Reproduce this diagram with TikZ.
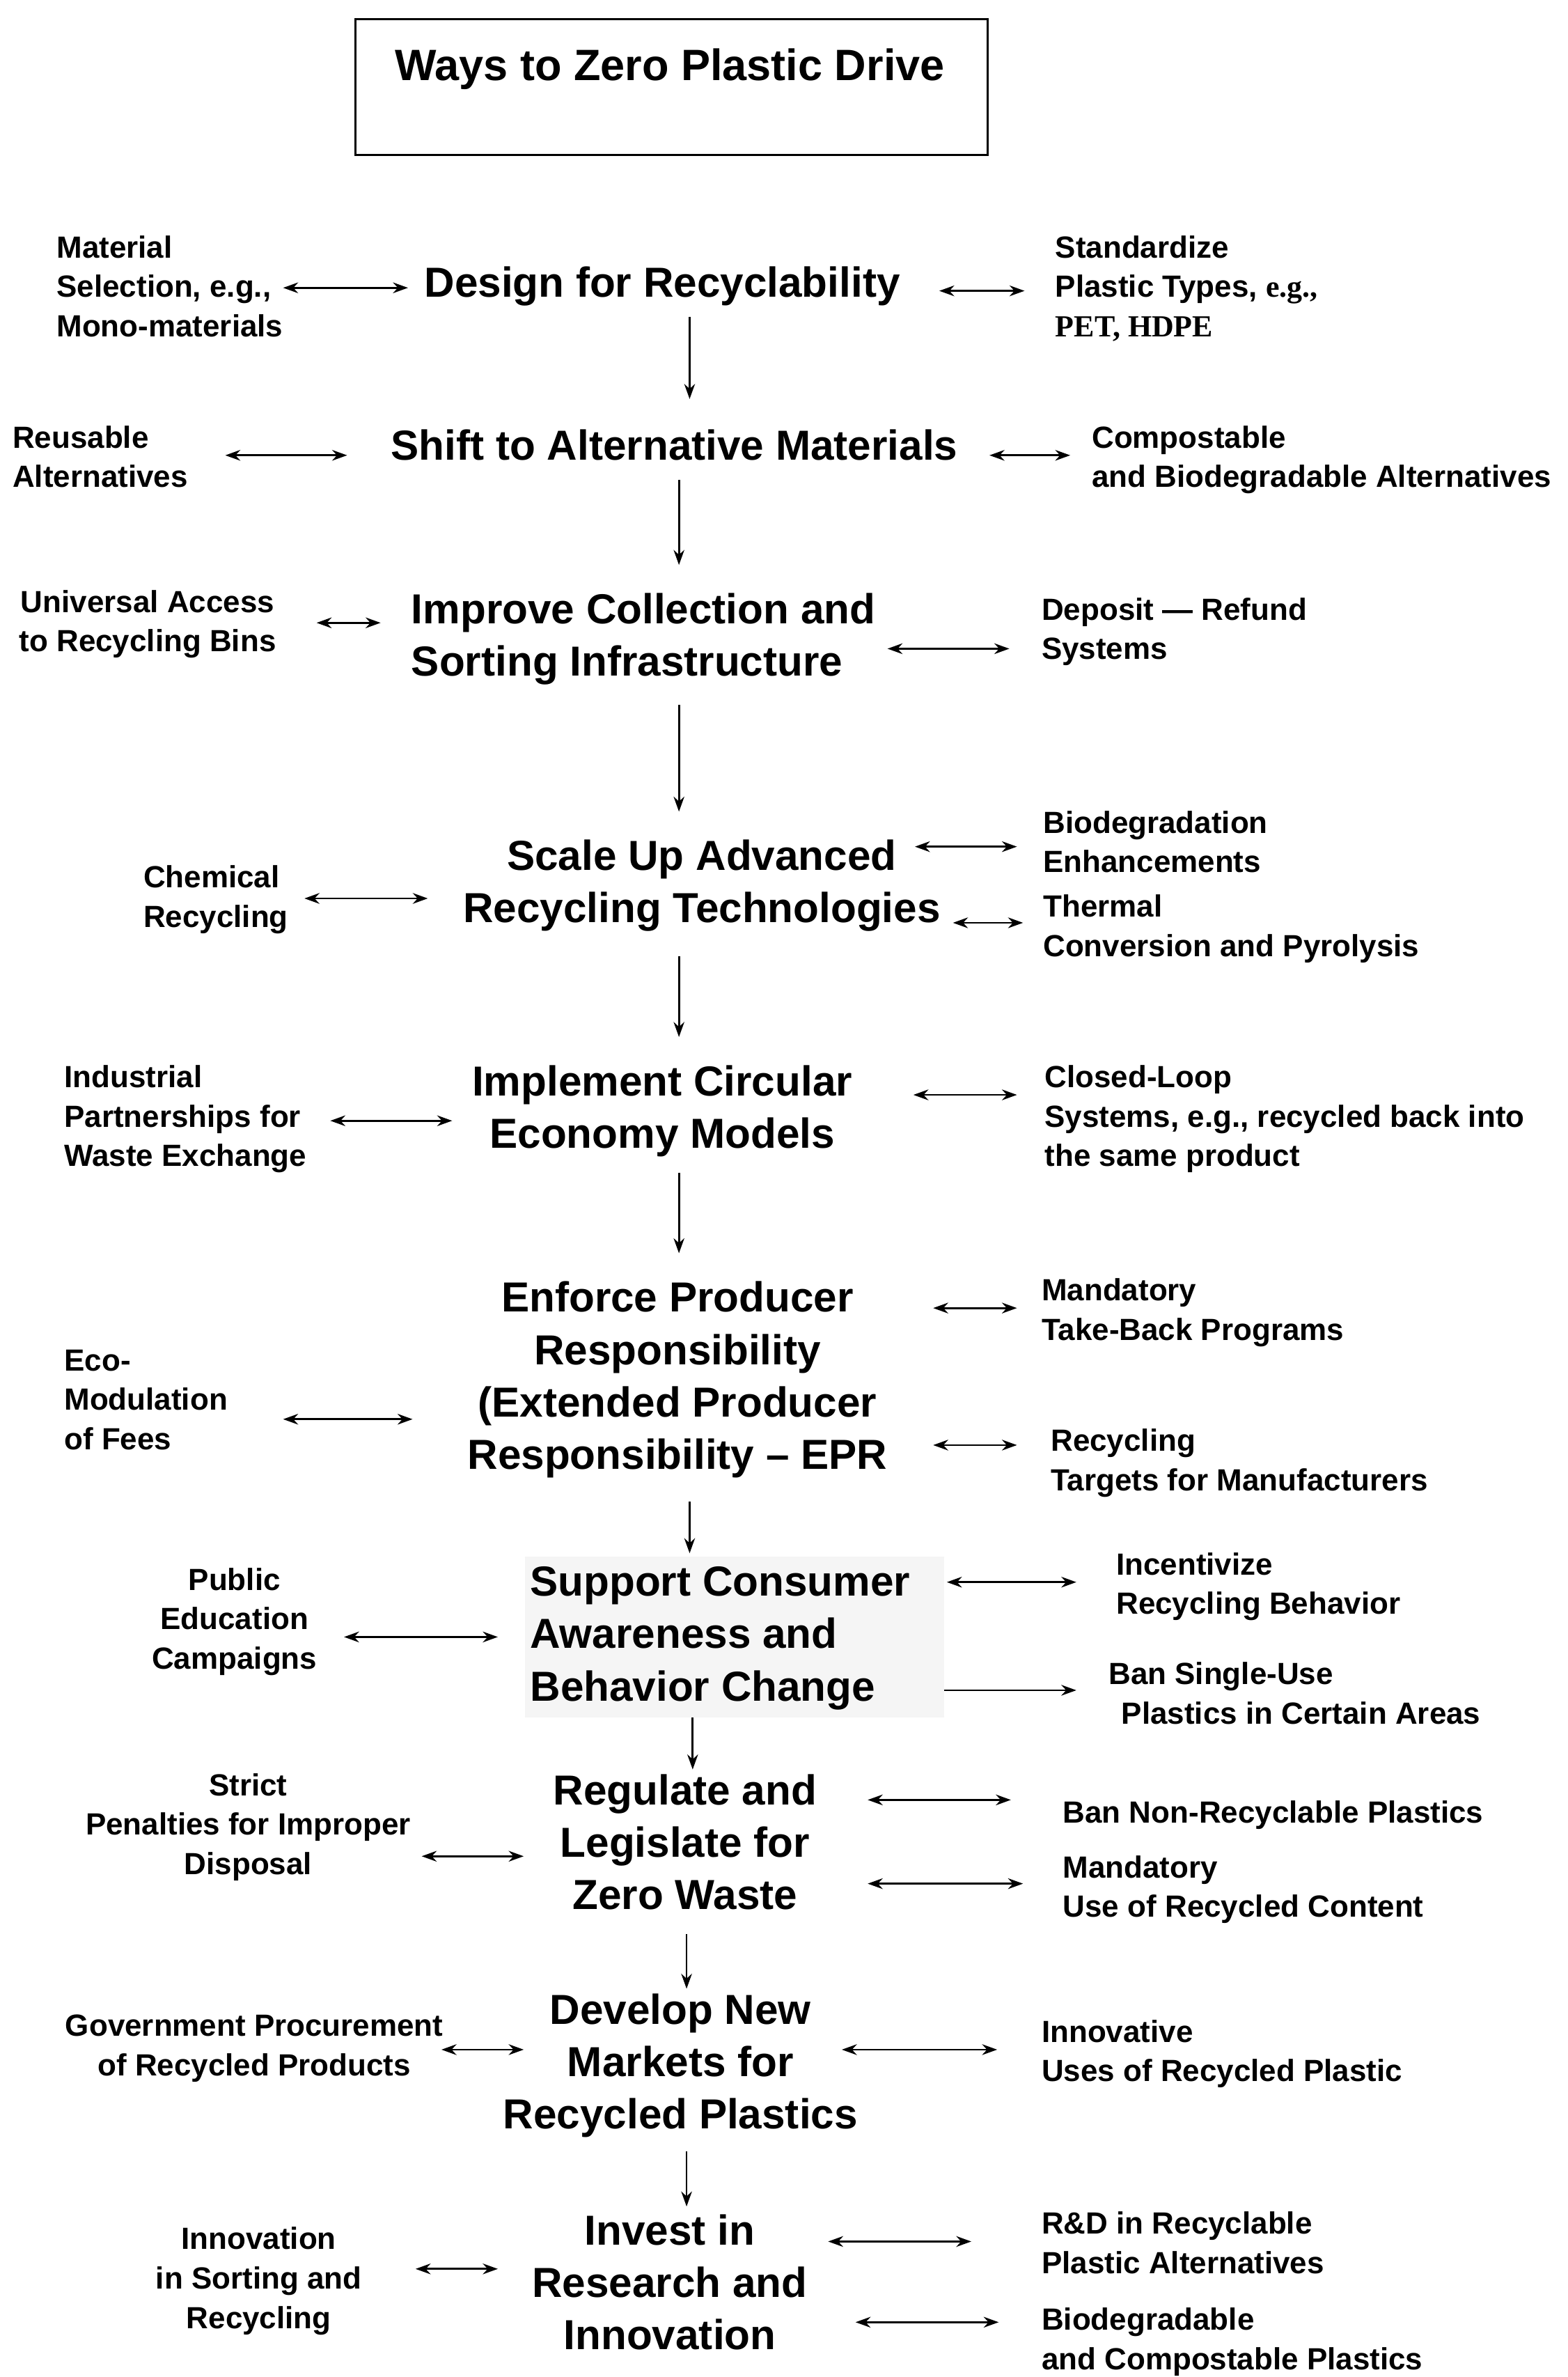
\documentclass[tikz,border=0pt]{standalone}
\usepackage{fontspec}
\setmainfont{Liberation Sans}
\newfontfamily\tms{Liberation Serif}
\usetikzlibrary{arrows.meta}
\begin{document}
\begin{tikzpicture}[x=0.025cm,y=-0.025cm,
 mainL/.style={font=\bfseries\fontsize{19.6}{24.5}\selectfont,inner sep=0,anchor=base west,align=left},
 mainC/.style={font=\bfseries\fontsize{19.6}{24.5}\selectfont,inner sep=0,anchor=base,align=center},
 sideL/.style={font=\bfseries\fontsize{14.3}{18.4}\selectfont,inner sep=0,anchor=base west,align=left},
 sideC/.style={font=\bfseries\fontsize{14.3}{18.4}\selectfont,inner sep=0,anchor=base,align=center},
 da/.style={{Stealth[length=7pt,width=5pt]}-{Stealth[length=7pt,width=5pt]},line width=0.9pt},
 sa/.style={-{Stealth[length=7pt,width=5pt]},line width=0.9pt}]
\useasboundingbox (0,0) rectangle (1030,1561);
\node[draw,line width=0.9pt,minimum width=415*0.025cm,minimum height=89*0.025cm,anchor=north west] (title) at (233,12) {};
\node[font=\bfseries\fontsize{20.5}{25}\selectfont,inner sep=0,anchor=base] (tt) at (440,53) {Ways to Zero Plastic Drive};
% 1
\node[mainC] (m1) at (435,195) {Design for Recyclability};
\node[sideL] (l1) at (37,221) {Material\\Selection, e.g.,\\Mono-materials};
\node[sideL] (r1) at (693,221) {Standardize\\Plastic Types, {\tms e.g.,}\\{\tms PET, HDPE}};
\coordinate (a1) at (186,189); \coordinate (b1) at (268,189);
\coordinate (c1) at (617,191); \coordinate (d1) at (673,191);
\draw[da] (a1)--(b1); \draw[da] (c1)--(d1);
\coordinate (v1a) at (453,208); \coordinate (v1b) at (453,262); \draw[sa] (v1a)--(v1b);
% 2
\node[mainC] (m2) at (443,302) {Shift to Alternative Materials};
\node[sideL] (l2) at (8,320) {Reusable\\Alternatives};
\node[sideL] (r2) at (717,320) {Compostable\\and Biodegradable Alternatives};
\coordinate (a2) at (148,299); \coordinate (b2) at (228,299);
\coordinate (c2) at (650,299); \coordinate (d2) at (703,299);
\draw[da] (a2)--(b2); \draw[da] (c2)--(d2);
\coordinate (v2a) at (446,315); \coordinate (v2b) at (446,371); \draw[sa] (v2a)--(v2b);
% 3
\node[mainL] (m3) at (270,444) {Improve Collection and\\Sorting Infrastructure};
\node[sideC] (l3) at (97,428) {Universal Access\\to Recycling Bins};
\node[sideL] (r3) at (684,433) {Deposit --- Refund\\Systems};
\coordinate (a3) at (208,409); \coordinate (b3) at (250,409);
\coordinate (c3) at (583,426); \coordinate (d3) at (663,426);
\draw[da] (a3)--(b3); \draw[da] (c3)--(d3);
\coordinate (v3a) at (446,463); \coordinate (v3b) at (446,533); \draw[sa] (v3a)--(v3b);
% 4
\node[mainC] (m4) at (461,606) {Scale Up Advanced\\Recycling Technologies};
\node[sideL] (l4) at (94,609) {Chemical\\Recycling};
\node[sideL] (r4a) at (685,573) {Biodegradation\\Enhancements};
\node[sideL] (r4b) at (685,628) {Thermal\\Conversion and Pyrolysis};
\coordinate (a4) at (200,590); \coordinate (b4) at (281,590);
\coordinate (c4) at (601,556); \coordinate (d4) at (668,556);
\coordinate (e4) at (626,606); \coordinate (f4) at (672,606);
\draw[da] (a4)--(b4); \draw[da] (c4)--(d4); \draw[da] (e4)--(f4);
\coordinate (v4a) at (446,628); \coordinate (v4b) at (446,681); \draw[sa] (v4a)--(v4b);
% 5
\node[mainC] (m5) at (435,754) {Implement Circular\\Economy Models};
\node[sideL] (l5) at (42,766) {Industrial\\Partnerships for\\Waste Exchange};
\node[sideL] (r5) at (686,766) {Closed-Loop\\Systems, e.g., recycled back into\\the same product};
\coordinate (a5) at (217,736); \coordinate (b5) at (297,736);
\coordinate (c5) at (600,719); \coordinate (d5) at (668,719);
\draw[da] (a5)--(b5); \draw[da] (c5)--(d5);
\coordinate (v5a) at (446,770); \coordinate (v5b) at (446,823); \draw[sa] (v5a)--(v5b);
% 6
\node[mainC] (m6) at (445,965) {Enforce Producer\\Responsibility\\(Extended Producer\\Responsibility -- EPR};
\node[sideL] (l6) at (42,952) {Eco-\\Modulation\\of Fees};
\node[sideL] (r6a) at (684,880) {Mandatory\\Take-Back Programs};
\node[sideL] (r6b) at (690,979) {Recycling\\Targets for Manufacturers};
\coordinate (a6) at (186,932); \coordinate (b6) at (271,932);
\coordinate (c6) at (613,859); \coordinate (d6) at (668,859);
\coordinate (e6) at (613,949); \coordinate (f6) at (668,949);
\draw[da] (a6)--(b6); \draw[da] (c6)--(d6); \draw[da] (e6)--(f6);
\coordinate (v6a) at (453,986); \coordinate (v6b) at (453,1020); \draw[sa] (v6a)--(v6b);
% 7
\fill[black!4] (345,1022) rectangle (620,1128);
\node[mainL] (m7) at (348,1117) {Support Consumer\\Awareness and\\Behavior Change};
\node[sideC] (l7) at (154,1096) {Public\\Education\\Campaigns};
\node[sideL] (r7a) at (733,1060) {Incentivize\\Recycling Behavior};
\node[sideL] (r7b) at (728,1132) {Ban Single-Use\\\hspace*{6pt}Plastics in Certain Areas};
\coordinate (a7) at (226,1075); \coordinate (b7) at (327,1075);
\coordinate (c7) at (622,1039); \coordinate (d7) at (707,1039);
\coordinate (e7) at (620,1110); \coordinate (f7) at (707,1110);
\draw[da] (a7)--(b7); \draw[da] (c7)--(d7); \draw[sa] (e7)--(f7);
\coordinate (v7a) at (455,1128); \coordinate (v7b) at (455,1162); \draw[sa] (v7a)--(v7b);
% 8
\node[mainC] (m8) at (450,1254) {Regulate and\\Legislate for\\Zero Waste};
\node[sideC] (l8) at (163,1231) {Strict\\Penalties for Improper\\Disposal};
\node[sideL] (r8a) at (698,1197) {Ban Non-Recyclable Plastics};
\node[sideL] (r8b) at (698,1259) {Mandatory\\Use of Recycled Content};
\coordinate (a8) at (277,1219); \coordinate (b8) at (344,1219);
\coordinate (c8) at (570,1182); \coordinate (d8) at (664,1182);
\coordinate (e8) at (570,1237); \coordinate (f8) at (672,1237);
\draw[da] (a8)--(b8); \draw[da] (c8)--(d8); \draw[da] (e8)--(f8);
\coordinate (v8a) at (451,1270); \coordinate (v8b) at (451,1306); \draw[sa] (v8a)--(v8b);
% 9
\node[mainC] (m9) at (447,1398) {Develop New\\Markets for\\Recycled Plastics};
\node[sideC] (l9) at (167,1363) {Government Procurement\\of Recycled Products};
\node[sideL] (r9) at (684,1367) {Innovative\\Uses of Recycled Plastic};
\coordinate (a9) at (290,1346); \coordinate (b9) at (344,1346);
\coordinate (c9) at (553,1346); \coordinate (d9) at (655,1346);
\draw[da] (a9)--(b9); \draw[da] (c9)--(d9);
\coordinate (v9a) at (451,1413); \coordinate (v9b) at (451,1449); \draw[sa] (v9a)--(v9b);
% 10
\node[mainC] (m10) at (440,1543) {Invest in\\Research and\\Innovation};
\node[sideC] (l10) at (170,1529) {Innovation\\in Sorting and\\Recycling};
\node[sideL] (r10a) at (684,1493) {R\&D in Recyclable\\Plastic Alternatives};
\node[sideL] (r10b) at (684,1556) {Biodegradable\\and Compostable Plastics};
\coordinate (a10) at (273,1490); \coordinate (b10) at (327,1490);
\coordinate (c10) at (544,1472); \coordinate (d10) at (638,1472);
\coordinate (e10) at (562,1525); \coordinate (f10) at (656,1525);
\draw[da] (a10)--(b10); \draw[da] (c10)--(d10); \draw[da] (e10)--(f10);
\end{tikzpicture}
\end{document}
